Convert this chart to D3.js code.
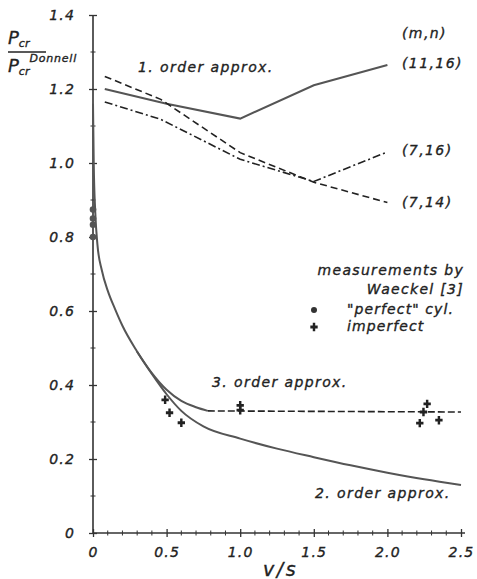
<!DOCTYPE html>
<html>
<head>
<meta charset="utf-8">
<script src="https://cdn.jsdelivr.net/npm/d3@7"></script>
<style>
  body { margin: 0; background: #fff; }
  text { font-family: "DejaVu Sans", sans-serif; font-style: italic; fill: #222; stroke: #222; stroke-width: 0.35px; }
</style>
</head>
<body>
<div id="chart"></div>
<script>
// axis ticks
const xTicks = [0, 0.5, 1.0, 1.5, 2.0, 2.5];
const xTickLabels = ['0', '0.5', '1.0', '1.5', '2.0', '2.5'];
const yTicks = [0, 0.2, 0.4, 0.6, 0.8, 1.0, 1.2, 1.4];
const yTickLabels = ['0', '0.2', '0.4', '0.6', '0.8', '1.0', '1.2', '1.4'];
const xMinor = [0.1, 0.2, 0.3, 0.4, 0.6, 0.7, 0.8, 0.9, 1.1, 1.2, 1.3, 1.4, 1.6, 1.7, 1.8, 1.9, 2.1, 2.2, 2.3, 2.4];
const yMinor = [0.1, 0.3, 0.5, 0.7, 0.9, 1.1, 1.3];

// 1. order approx, one line per mode (m,n)
const v1116 = [0.08, 0.5, 1.0, 1.5, 2.0];
const p1116 = [1.20, 1.16, 1.12, 1.21, 1.265];
const v0714 = [0.08, 0.46, 1.0, 1.5, 2.0];
const p0714 = [1.234, 1.172, 1.028, 0.948, 0.893];
const v0716 = [0.08, 0.46, 1.0, 1.5, 2.0];
const p0716 = [1.165, 1.118, 1.01, 0.95, 1.03];

// 2. order approx
const v2nd = [0, 0.005, 0.015, 0.03, 0.06, 0.1, 0.15, 0.2, 0.3, 0.4, 0.5, 0.6, 0.75, 1.0, 1.25, 1.5, 1.75, 2.0, 2.25, 2.5];
const p2nd = [1.16, 1.0, 0.87, 0.78, 0.71, 0.655, 0.605, 0.56, 0.49, 0.43, 0.375, 0.33, 0.288, 0.255, 0.228, 0.205, 0.183, 0.163, 0.145, 0.13];

// 3. order approx (solid part, then flat dashed part)
const v3rd = [0.3, 0.4, 0.5, 0.6, 0.7, 0.78];
const p3rd = [0.49, 0.432, 0.387, 0.357, 0.34, 0.33];
const v3rdFlat = [0.78, 2.5];
const p3rdFlat = [0.33, 0.327];

// measurements by Waeckel
const vPerfect = [0.0, 0.0, 0.0, 0.0];
const pPerfect = [0.874, 0.85, 0.833, 0.80];
const vImperfect = [0.49, 0.52, 0.6, 1.0, 1.0, 2.22, 2.245, 2.27, 2.35];
const pImperfect = [0.36, 0.325, 0.298, 0.345, 0.332, 0.297, 0.327, 0.349, 0.305];

const width = 477, height = 579;
const svg = d3.select('#chart').append('svg').attr('width', width).attr('height', height);

const x = d3.scaleLinear().domain([0, 2.5]).range([93, 461]);
const y = d3.scaleLinear().domain([0, 1.4]).range([533, 15]);

const ink = '#333';
const curve = '#555';

// axes
const xAxis = svg.append('g').attr('transform', `translate(0,${y(0)})`)
  .call(d3.axisBottom(x).tickValues(xTicks).tickSize(4).tickPadding(10)
    .tickFormat((d, i) => xTickLabels[i]));
const yAxis = svg.append('g').attr('transform', `translate(${x(0)},0)`)
  .call(d3.axisLeft(y).tickValues(yTicks).tickSize(4).tickPadding(14)
    .tickFormat((d, i) => yTickLabels[i]));

[xAxis, yAxis].forEach(g => {
  g.select('.domain').attr('stroke', ink).attr('stroke-width', 1.6);
  g.selectAll('.tick line').attr('stroke', ink).attr('stroke-width', 1.3);
  g.selectAll('.tick text').attr('font-size', 14).attr('font-family', 'DejaVu Sans')
    .attr('font-style', 'italic').attr('fill', '#222').attr('letter-spacing', 1.2);
});
// ticks cross the axis line
xAxis.selectAll('.tick line').attr('y1', -4).attr('y2', 4);
yAxis.selectAll('.tick line').attr('x1', -4).attr('x2', 4);
xAxis.select('.domain').attr('d', `M${x(0)},0H${x(2.5) + 4}`);
yAxis.select('.domain').attr('d', `M0,${y(0)}V${y(1.4)}`);

// minor ticks
svg.append('g').selectAll('line').data(xMinor).enter().append('line')
  .attr('x1', d => x(d)).attr('x2', d => x(d))
  .attr('y1', y(0) - 2.5).attr('y2', y(0) + 2.5)
  .attr('stroke', ink).attr('stroke-width', 1);
svg.append('g').selectAll('line').data(yMinor).enter().append('line')
  .attr('x1', x(0) - 2.5).attr('x2', x(0) + 2.5)
  .attr('y1', d => y(d)).attr('y2', d => y(d))
  .attr('stroke', ink).attr('stroke-width', 1);

// line helper
const line = d3.line().x(d => x(d[0])).y(d => y(d[1]));
function drawLine(vs, ps, dash, smooth) {
  const l = smooth ? line.curve(d3.curveMonotoneX) : line.curve(d3.curveLinear);
  svg.append('path')
    .datum(vs.map((v, i) => [v, ps[i]]))
    .attr('d', l)
    .attr('fill', 'none')
    .attr('stroke', dash ? '#222' : curve)
    .attr('stroke-width', dash ? 1.6 : 2)
    .attr('stroke-dasharray', dash || null);
}

drawLine(v1116, p1116, null, false);
drawLine(v0714, p0714, '7,4', false);
drawLine(v0716, p0716, '8,3,2,3', false);
drawLine(v2nd, p2nd, null, true);
drawLine(v3rd, p3rd, null, true);
drawLine(v3rdFlat, p3rdFlat, '7,3', false);

// measurement markers
svg.append('g').selectAll('circle').data(vPerfect).enter().append('circle')
  .attr('cx', d => x(d)).attr('cy', (d, i) => y(pPerfect[i]))
  .attr('r', 3.3).attr('fill', '#555');

const cross = d3.symbol().type(d3.symbolCross).size(30);
svg.append('g').selectAll('path').data(vImperfect).enter().append('path')
  .attr('d', cross)
  .attr('transform', (d, i) => `translate(${x(d)},${y(pImperfect[i])}) scale(1,1.15)`)
  .attr('fill', '#222');

// texts
function label(tx, ty, str, size, anchor, spacing) {
  return svg.append('text').attr('x', tx).attr('y', ty)
    .attr('font-size', size || 14).attr('text-anchor', anchor || 'start')
    .attr('letter-spacing', spacing == null ? 1.4 : spacing).text(str);
}

label(138, 72, '1. order approx.');
label(212, 387, '3. order approx.');
label(315, 498, '2. order approx.');
label(402, 38, '(m,n)');
label(402, 68, '(11,16)');
label(402, 155, '(7,16)');
label(402, 207, '(7,14)');

label(464, 275, 'measurements by', 14, 'end', 1.3);
label(464, 294, 'Waeckel [3]', 14, 'end', 1.3);
label(347, 314, '"perfect" cyl.', 14, 'start', 1.1);
label(347, 331, 'imperfect', 14, 'start', 1.1);
svg.append('circle').attr('cx', 314).attr('cy', 310).attr('r', 3).attr('fill', '#333');
svg.append('path').attr('d', cross).attr('transform', 'translate(314,327) scale(1,1.15)').attr('fill', '#222');

// x axis title
label(263, 576, 'v/s', 19, 'start', 2.5);

// y axis title as a fraction
const yl = svg.append('g');
yl.append('text').attr('x', 8).attr('y', 44).attr('font-size', 18)
  .html('P<tspan font-size="11" dy="3">cr</tspan>');
yl.append('line').attr('x1', 8).attr('x2', 46).attr('y1', 52).attr('y2', 52)
  .attr('stroke', '#222').attr('stroke-width', 1.5);
yl.append('text').attr('x', 8).attr('y', 72).attr('font-size', 18)
  .html('P<tspan font-size="11" dy="3">cr</tspan><tspan font-size="11" dy="-13" letter-spacing="0.8">Donnell</tspan>');
</script>
</body>
</html>
